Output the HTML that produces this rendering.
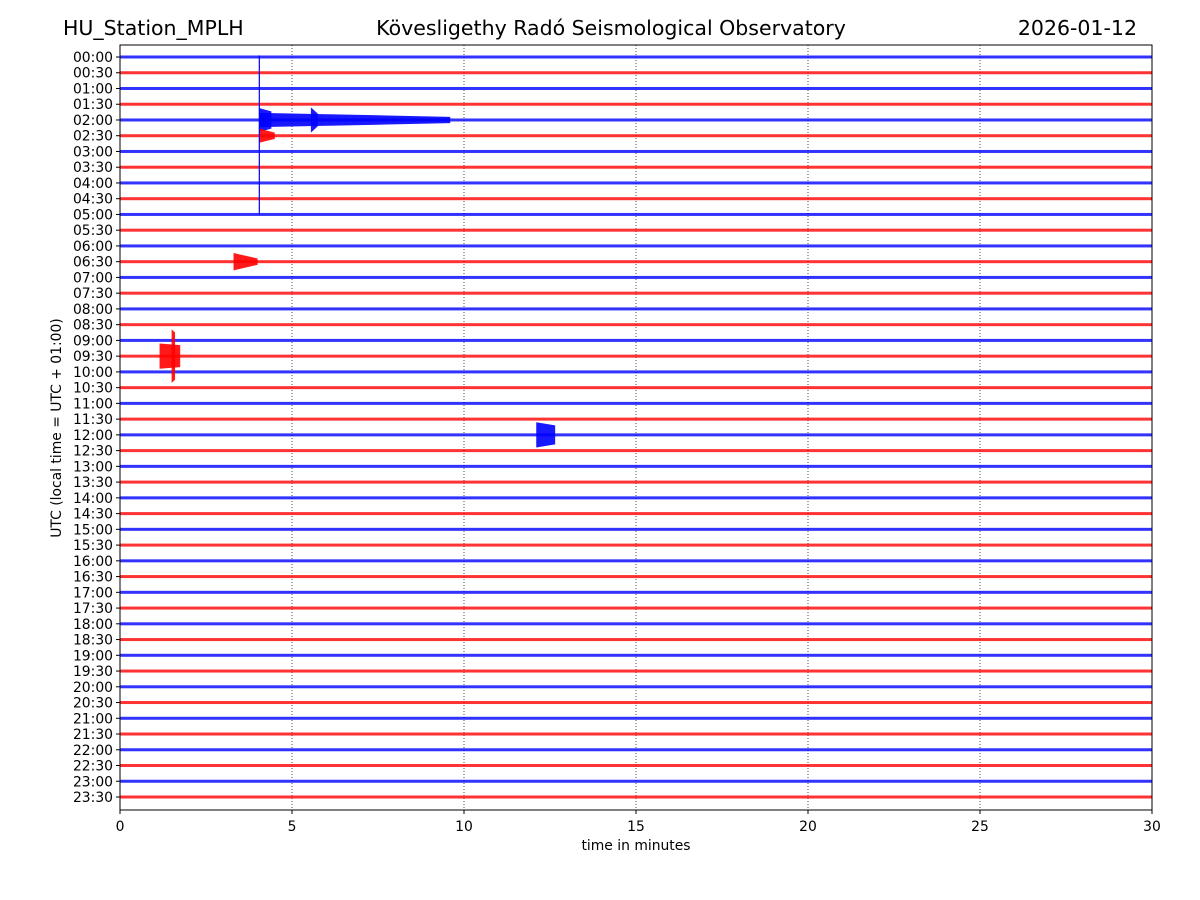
<!DOCTYPE html>
<html><head><meta charset="utf-8">
<style>
html,body{margin:0;padding:0;background:#fff;}
svg{display:block;font-family:"DejaVu Sans","Liberation Sans",sans-serif;}
</style></head>
<body>
<svg id="chart" width="1200" height="900" viewBox="0 0 1200 900" xmlns="http://www.w3.org/2000/svg">
  <rect width="1200" height="900" fill="#fff"/>
  <text x="63" y="35" font-size="20.5">HU_Station_MPLH</text>
  <text x="611" y="35" font-size="20.5" text-anchor="middle">Kövesligethy Radó Seismological Observatory</text>
  <text x="1137" y="35" font-size="20.5" text-anchor="end">2026-01-12</text>
  <g id="grid"></g>
  <g id="traces"></g>
  <g id="events"></g>
  <rect x="120" y="45" width="1032" height="765" fill="none" stroke="#000" stroke-width="1"/>
  <g id="xticks"></g>
  <g id="yticks"></g>
  <text x="636" y="850" font-size="13.9" text-anchor="middle">time in minutes</text>
  <text transform="translate(61,428) rotate(-90)" font-size="13.9" text-anchor="middle">UTC (local time = UTC + 01:00)</text>
</svg>
<script>
// Data
const rowLabels = [];
for (let h = 0; h < 24; h++) { const hh = String(h).padStart(2,'0'); rowLabels.push(hh+':00'); rowLabels.push(hh+':30'); }
const xTicks = [0,5,10,15,20,25,30];
// events: row index, start minute, end minute, start amplitude, end amplitude (row units)
const eventRows   = [4,    4,    4,    4,    5,    13,   19,   19,   24];
const eventStart  = [4.05, 4.05, 5.55, 7.5,  4.05, 3.3,  1.15, 1.5,  12.1];
const eventEnd    = [4.4,  7.5,  5.75, 9.6,  4.5,  4.0,  1.75, 1.6,  12.65];
const eventAmpA   = [0.75, 0.45, 0.8,  0.3,  0.45, 0.55, 0.8,  1.7,  0.8];
const eventAmpB   = [0.55, 0.3,  0.4,  0.2,  0.2,  0.2,  0.7,  1.5,  0.6];
// long spike across rows (minute, top row, bottom row)
const spikeMinute = [4.05];
const spikeTop = [-0.1];
const spikeBottom = [10];

const NS='http://www.w3.org/2000/svg';
const x0=120, x1=1152, yTop=57, step=(797-57)/47;
const xs = m => x0 + (m/30)*(x1-x0);
const ys = r => yTop + r*step;
function mk(tag, attrs, parent){ const e=document.createElementNS(NS,tag); for(const k in attrs) e.setAttribute(k,attrs[k]); parent.appendChild(e); return e; }

const grid=document.getElementById('grid');
xTicks.slice(1,-1).forEach(t=>{
  const l=mk('line',{x1:xs(t),x2:xs(t),y1:45,y2:810,stroke:'#000','stroke-width':0.7,'stroke-dasharray':'1,2'},grid);
  
  
});

const tr=document.getElementById('traces');
rowLabels.forEach((lab,i)=>{
  const c = i%2===0 ? '#0000ff' : '#ff0000';
  const r=mk('rect',{x:x0,y:ys(i)-1.5,width:x1-x0,height:3,fill:c,opacity:0.8},tr);
  
  
});

const ev=document.getElementById('events');
eventRows.forEach((row,i)=>{
  const c = row%2===0 ? '#0000ff' : '#ff0000';
  const s=xs(eventStart[i]), e=xs(eventEnd[i]), a=eventAmpA[i]*step, b=eventAmpB[i]*step, y=ys(row);
  const pts=[[s,y-a],[e,y-b],[e,y+b],[s,y+a]];
  const p=mk('polygon',{points:pts.map(q=>q.join(',')).join(' '),fill:c,opacity:0.9},ev);
  
  
});
spikeMinute.forEach((m,i)=>{
  const l=mk('line',{x1:xs(m),x2:xs(m),y1:ys(spikeTop[i]),y2:ys(spikeBottom[i]),stroke:'#0000ff','stroke-width':1.2},ev);
  
  
});

const xt=document.getElementById('xticks');
xTicks.forEach(t=>{
  const g=mk('g',{},xt);
  
  
  mk('line',{x1:xs(t),x2:xs(t),y1:810,y2:814,stroke:'#000'},g);
  const tx=mk('text',{x:xs(t),y:831,'font-size':13.9,'text-anchor':'middle'},g);
  tx.textContent=t;
});
const yt=document.getElementById('yticks');
rowLabels.forEach((lab,i)=>{
  const g=mk('g',{},yt);
  
  
  mk('line',{x1:116,x2:120,y1:ys(i),y2:ys(i),stroke:'#000'},g);
  const tx=mk('text',{x:113,y:ys(i)+5,'font-size':13.9,'text-anchor':'end'},g);
  tx.textContent=lab;
});
</script>
</body></html>
